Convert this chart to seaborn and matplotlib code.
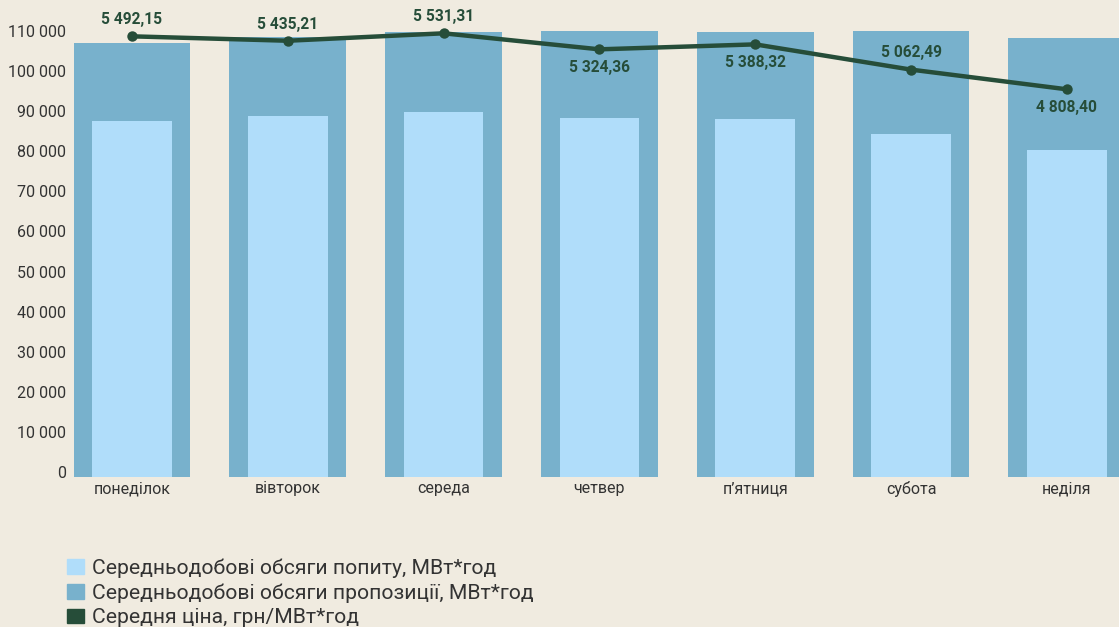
import numpy as np
import matplotlib
matplotlib.use("Agg")
import matplotlib.pyplot as plt
import matplotlib.transforms as mtransforms
from matplotlib.patches import Patch
from matplotlib.ticker import FuncFormatter
import seaborn as sns

days = ["понеділок", "вівторок", "середа", "четвер", "п’ятниця", "субота", "неділя"]
supply = [108300, 109700, 111000, 111200, 111000, 111200, 109500]
demand = [88800, 90000, 91000, 89500, 89300, 85500, 81500]
price = [5492.15, 5435.21, 5531.31, 5324.36, 5388.32, 5062.49, 4808.40]
label_side = ["above", "above", "above", "below", "below", "above", "below"]

legend_labels = [
    "Середньодобові обсяги попиту, МВт*год",
    "Середньодобові обсяги пропозиції, МВт*год",
    "Середня ціна, грн/МВт*год",
]

BG = "#f0ebe0"
C_DEMAND = "#b0ddfa"
C_SUPPLY = "#78b1cc"
C_PRICE = "#264d39"
C_TEXT = "#333333"

sns.set_style("white")
plt.rcParams["font.family"] = ["Roboto", "DejaVu Sans"]

fig = plt.figure(figsize=(11.19, 6.27), dpi=100, facecolor=BG)
ax = fig.add_axes([70 / 1119, 150 / 627, 1049 / 1119, 457 / 627])
ax.set_facecolor(BG)

# supply (wide) bars behind, demand (narrow) in front
sns.barplot(x=days, y=supply, color=C_SUPPLY, width=0.75, saturation=1, linewidth=0, ax=ax)
sns.barplot(x=days, y=demand, color=C_DEMAND, width=0.51, saturation=1, linewidth=0, ax=ax)

ax.set_xlim(-0.398, 6.335)
ax.set_ylim(0, 113970)
ax.set_yticks(np.arange(0, 110001, 10000))
ax.yaxis.set_major_formatter(FuncFormatter(lambda v, _: f"{v:,.0f}".replace(",", " ")))
ax.tick_params(axis="both", length=0, labelsize=11.5, labelcolor=C_TEXT)
ax.tick_params(axis="y", pad=3)
ax.tick_params(axis="x", pad=3)
for lbl in ax.get_yticklabels():
    lbl.set_transform(lbl.get_transform() + mtransforms.ScaledTranslation(0, 5 / 100, fig.dpi_scale_trans))
ax.set_xlabel("")
ax.set_ylabel("")
sns.despine(ax=ax, left=True, bottom=True)

# price line on a hidden secondary axis
ax2 = ax.twinx()
x_pos = np.arange(len(days))
sns.lineplot(x=x_pos, y=price, ax=ax2, color=C_PRICE, linewidth=3.2,
             marker="o", markersize=7.5, markeredgewidth=0)
ax2.set_ylim(-197, 5703)
ax2.set_yticks([])
ax2.set_ylabel("")
sns.despine(ax=ax2, left=True, bottom=True, right=True)

for xi, p, side in zip(x_pos, price, label_side):
    dy = 12 if side == "above" else -13
    txt = f"{p:,.2f}".replace(",", " ").replace(".", ",")
    ax2.annotate(txt, (xi, p), xytext=(0, dy), textcoords="offset points",
                 ha="center", va="center", fontsize=11.2, fontweight="bold",
                 color=C_PRICE, annotation_clip=False)

handles = [Patch(color=C_DEMAND), Patch(color=C_SUPPLY), Patch(color=C_PRICE)]
fig.legend(handles, legend_labels, loc="upper left", bbox_to_anchor=(67 / 1119, 1 - 558 / 627),
           frameon=False, fontsize=15.2, handlelength=0.8, handleheight=0.71,
           handletextpad=0.38, labelspacing=0.27, borderpad=0, borderaxespad=0,
           labelcolor=C_TEXT)

fig.savefig("out.png", dpi=100, facecolor=BG)
